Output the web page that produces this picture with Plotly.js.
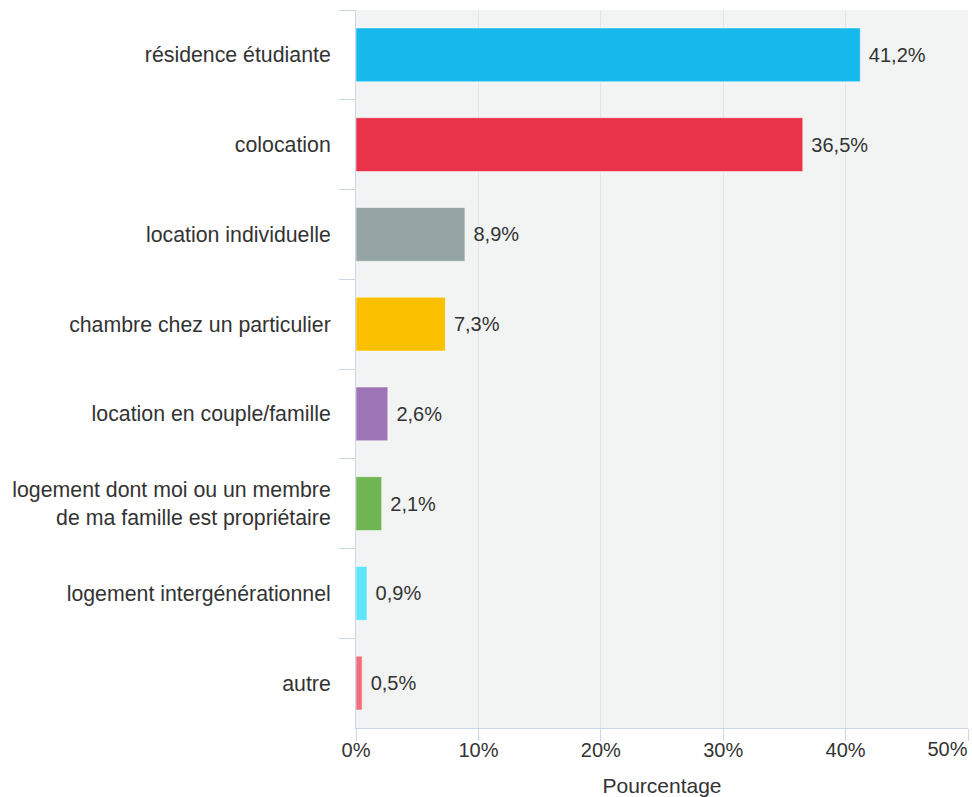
<!DOCTYPE html>
<html><head><meta charset="utf-8">
<script src="https://cdn.plot.ly/plotly-3.0.1.min.js"></script>
<style>html,body{margin:0;padding:0;background:#fff;}#chart{width:972px;height:797px;}</style>
</head><body><div id="chart"></div>
<script>
const categories = [
  "résidence étudiante",
  "colocation",
  "location individuelle",
  "chambre chez un particulier",
  "location en couple/famille",
  "logement dont moi ou un membre<br>de ma famille est propriétaire",
  "logement intergénérationnel",
  "autre"
];
const values = [41.2, 36.5, 8.9, 7.3, 2.6, 2.1, 0.9, 0.5];
const colors = ["#15b9ec", "#e8334b", "#95a5a6", "#fbc100", "#9e76b6", "#6fb553", "#5ee6fc", "#f26d7d"];
const xTicks = [0, 10, 20, 30, 40];
const xTickLabels = ["0%", "10%", "20%", "30%", "40%"];
const xLastTick = [50];
const xLastTickLabel = ["50%"];

const labels = values.map(v => '\u00a0' + v.toFixed(1).replace('.', ',') + '%');
const FONT = "Liberation Sans, Arial, sans-serif";

Plotly.newPlot('chart', [{
  type: 'bar',
  orientation: 'h',
  y: categories,
  x: values,
  text: labels,
  textposition: 'outside',
  cliponaxis: false,
  textfont: {family: FONT, size: 20, color: '#333333'},
  marker: {color: colors, line: {color: 'rgba(255,255,255,0.5)', width: 1}},
  hoverinfo: 'none'
}, {
  type: 'scatter', mode: 'markers', x: [], y: [], xaxis: 'x2', yaxis: 'y',
  hoverinfo: 'none', showlegend: false
}], {
  width: 972, height: 797,
  margin: {l: 356, r: 4, t: 10, b: 69, pad: 0},
  paper_bgcolor: '#ffffff',
  plot_bgcolor: '#f2f3f3',
  bargap: 0.4,
  showlegend: false,
  font: {family: FONT, size: 20, color: '#333333'},
  xaxis: {
    range: [0, 50],
    tickvals: xTicks.concat(xLastTick),
    ticktext: xTickLabels.concat(['']),
    ticks: 'outside', ticklen: 12, tickcolor: '#ccd6eb', tickwidth: 1,
    showgrid: true, gridcolor: '#e2e5e9', gridwidth: 1,
    showline: true, linecolor: '#ccd6eb', linewidth: 1,
    zeroline: false,
    ticklabelstandoff: -8,
    tickfont: {family: FONT, size: 20, color: '#333333'},
    title: {text: 'Pourcentage', font: {family: FONT, size: 21, color: '#333333'}, standoff: 18},
    fixedrange: true
  },
  xaxis2: {
    overlaying: 'x', anchor: 'y', side: 'bottom',
    range: [0, 50],
    tickvals: xLastTick,
    ticktext: xLastTickLabel,
    ticklabelposition: 'outside left',
    ticklabeloverflow: 'allow',
    ticks: 'outside', ticklen: 12, tickcolor: 'rgba(0,0,0,0)',
    showgrid: false, showline: false, zeroline: false,
    ticklabelstandoff: 3,
    tickfont: {family: FONT, size: 20, color: '#333333'},
    fixedrange: true
  },
  yaxis: {
    autorange: 'reversed',
    type: 'category',
    tickson: 'boundaries',
    ticks: 'outside', ticklen: 16, tickcolor: '#ccd6eb', tickwidth: 1,
    showgrid: false,
    showline: true, linecolor: '#ccd6eb', linewidth: 1,
    zeroline: false,
    ticklabelstandoff: 20,
    tickfont: {family: FONT, size: 21.3, color: '#333333'},
    fixedrange: true
  }
}, {displayModeBar: false, staticPlot: true});
</script>
</body></html>
